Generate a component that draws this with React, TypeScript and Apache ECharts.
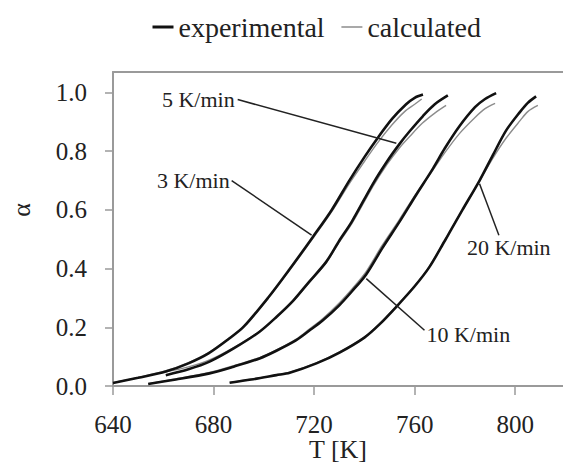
import React, { useEffect, useRef } from "react";
import * as echarts from "echarts";

// ---- data ----
const rateLabels = ["3 K/min", "5 K/min", "10 K/min", "20 K/min"];

const T3e = [640, 650, 661, 670, 678, 686, 692, 702, 710, 719.5, 727, 734, 740, 745, 751, 756.6, 760, 763.3];
const A3e = [0.010, 0.028, 0.049, 0.077, 0.111, 0.160, 0.202, 0.304, 0.395, 0.508, 0.600, 0.700, 0.780, 0.842, 0.910, 0.960, 0.982, 0.993];
const T3c = [640, 650, 661, 670, 678, 686, 692, 702, 710, 719.5, 727, 734, 740, 745, 751, 756, 760, 762.8];
const A3c = [0.011, 0.029, 0.052, 0.080, 0.114, 0.162, 0.203, 0.302, 0.392, 0.503, 0.594, 0.690, 0.765, 0.826, 0.890, 0.935, 0.960, 0.978];

const T5e = [661, 670, 678.4, 688, 698.3, 705, 711.6, 718, 724.8, 730, 735, 743.4, 749, 754, 758, 763.3, 768, 773.2];
const A5e = [0.037, 0.057, 0.083, 0.128, 0.185, 0.235, 0.290, 0.355, 0.423, 0.495, 0.560, 0.689, 0.765, 0.825, 0.868, 0.920, 0.960, 0.990];
const T5c = [661, 670, 678.4, 688, 698.3, 705, 711.6, 718, 724.8, 730, 735, 743.4, 749, 754, 758, 763, 768, 772.5];
const A5c = [0.048, 0.065, 0.089, 0.131, 0.186, 0.234, 0.288, 0.352, 0.420, 0.490, 0.553, 0.680, 0.755, 0.812, 0.850, 0.895, 0.930, 0.956];

const T10e = [654, 665, 678.4, 688, 698.3, 705, 712.9, 718, 723.5, 730, 735, 740.7, 747, 754, 760.5, 767.2, 772, 777.8, 784, 788, 792.4];
const A10e = [0.007, 0.022, 0.043, 0.066, 0.094, 0.120, 0.156, 0.188, 0.224, 0.275, 0.322, 0.380, 0.468, 0.560, 0.650, 0.740, 0.810, 0.885, 0.950, 0.978, 0.998];
const T10c = [654, 665, 678.4, 688, 698.3, 705, 712.9, 718, 723.5, 730, 735, 740.7, 747, 754, 760.5, 767.2, 772, 777.8, 784, 788, 792];
const A10c = [0.008, 0.024, 0.046, 0.069, 0.097, 0.123, 0.160, 0.193, 0.230, 0.283, 0.330, 0.390, 0.478, 0.568, 0.655, 0.735, 0.795, 0.860, 0.915, 0.945, 0.963];

const T20e = [686.4, 695, 705, 710.3, 720.9, 730.1, 740, 746, 752.7, 760, 765.9, 772, 774, 779, 785.8, 791, 796.4, 802, 805, 808.3];
const A20e = [0.011, 0.022, 0.037, 0.045, 0.077, 0.114, 0.165, 0.210, 0.270, 0.340, 0.406, 0.495, 0.525, 0.600, 0.700, 0.785, 0.871, 0.935, 0.965, 0.987];
const T20c = [686.4, 695, 705, 710.3, 720.9, 730.1, 740, 746, 752.7, 760, 765.9, 772, 774, 779, 785.8, 791, 796.4, 802, 805, 809];
const A20c = [0.012, 0.023, 0.038, 0.047, 0.079, 0.116, 0.167, 0.212, 0.272, 0.342, 0.408, 0.497, 0.527, 0.600, 0.698, 0.775, 0.845, 0.905, 0.935, 0.956];

const xTicks = [640, 680, 720, 760, 800];
const yTicks = [0, 0.2, 0.4, 0.6, 0.8, 1.0];
const xMin = 640;
const xMax = 819;

// leader lines: point on curve and point where the label attaches (data coords)
const leaderCurvePts = [[719.0, 0.514], [752.7, 0.827], [740.75, 0.366], [785.8, 0.689]];
const leaderLabelPts = [[687.2, 0.700], [689.6, 0.976], [763.9, 0.190], [793.5, 0.514]];

const FONT = "Liberation Serif";

const pair = (t: number[], a: number[]) => t.map((v, i) => [v, a[i]]);

export default function App() {
  const ref = useRef<HTMLDivElement>(null);

  useEffect(() => {
    if (!ref.current) return;
    const chart = echarts.init(ref.current, null, { renderer: "svg" });

    const expSets = [pair(T3e, A3e), pair(T5e, A5e), pair(T10e, A10e), pair(T20e, A20e)];
    const calcSets = [pair(T3c, A3c), pair(T5c, A5c), pair(T10c, A10c), pair(T20c, A20c)];

    const calcSeries = calcSets.map((d) => ({
      name: "calculated",
      type: "line",
      data: d,
      symbol: "none",
      smooth: 0.3,
      lineStyle: { color: "#8c8c8c", width: 1.4 },
      itemStyle: { color: "#8c8c8c" },
      z: 2,
    }));
    const expSeries = expSets.map((d) => ({
      name: "experimental",
      type: "line",
      data: d,
      symbol: "none",
      smooth: 0.3,
      lineStyle: { color: "#111", width: 2.6 },
      itemStyle: { color: "#111" },
      z: 3,
    }));

    const axisColor = "#9a9a9a";
    chart.setOption({
      animation: false,
      backgroundColor: "#fff",
      textStyle: { fontFamily: FONT },
      legend: {
        data: [
          { name: "experimental", lineStyle: { width: 3, color: "#111" }, itemStyle: { opacity: 0 } },
          { name: "calculated", lineStyle: { width: 1.5, color: "#8c8c8c" }, itemStyle: { opacity: 0 } },
        ],
        left: 146,
        top: 8,
        itemWidth: 21,
        itemHeight: 14,
        itemGap: 16,
        textStyle: { fontFamily: FONT, fontSize: 28, color: "#222" },
      },
      grid: { left: 113, right: 0, top: 72, bottom: 77, containLabel: false, outerBoundsMode: "none" },
      xAxis: [
        {
          type: "value",
          min: xMin,
          max: xMax,
          interval: 40,
          axisLine: { show: true, lineStyle: { color: axisColor, width: 2 } },
          axisTick: { show: true, inside: false, length: 9, customValues: xTicks, lineStyle: { color: axisColor, width: 1.5 } },
          axisLabel: { customValues: xTicks, margin: 26, fontFamily: FONT, fontSize: 25, color: "#222" },
          splitLine: { show: false },
        },
        {
          type: "value",
          position: "top",
          min: xMin,
          max: xMax,
          axisLine: { show: true, lineStyle: { color: axisColor, width: 2 } },
          axisTick: { show: false },
          axisLabel: { show: false },
          splitLine: { show: false },
        },
      ],
      yAxis: {
        type: "value",
        min: 0,
        max: 1.07,
        interval: 0.2,
        axisLine: { show: true, lineStyle: { color: axisColor, width: 2 } },
        axisTick: { show: true, inside: false, length: 8, customValues: yTicks, lineStyle: { color: axisColor, width: 1.5 } },
        axisLabel: {
          customValues: yTicks,
          margin: 26,
          fontFamily: FONT,
          fontSize: 25,
          color: "#222",
          formatter: (v: number) => v.toFixed(1),
        },
        splitLine: { show: false },
      },
      series: [...calcSeries, ...expSeries],
    });

    const toPx = (p: number[]) => chart.convertToPixel({ gridIndex: 0 }, p) as number[];
    const labelOffsets = [
      { dx: -2, dy: 0, align: "right" },
      { dx: -3, dy: 0, align: "right" },
      { dx: 2, dy: 4, align: "left" },
      { dx: -32, dy: 12, align: "left" },
    ];
    const graphics: any[] = [];
    rateLabels.forEach((txt, i) => {
      const c = toPx(leaderCurvePts[i]);
      const l = toPx(leaderLabelPts[i]);
      graphics.push({
        type: "line",
        shape: { x1: l[0], y1: l[1], x2: c[0], y2: c[1] },
        style: { stroke: "#222", lineWidth: 1.5 },
        z: 10,
      });
      const o = labelOffsets[i];
      graphics.push({
        type: "text",
        x: l[0] + o.dx,
        y: l[1] + o.dy,
        style: {
          text: txt,
          fill: "#222",
          fontFamily: FONT,
          fontSize: 22,
          align: o.align,
          verticalAlign: "middle",
          textAlign: o.align,
          textVerticalAlign: "middle",
        },
        z: 10,
      });
    });
    // axis titles
    const axisOrigin = toPx([(xMin + xMax) / 2, 0]);
    graphics.push({
      type: "text",
      x: axisOrigin[0],
      y: axisOrigin[1] + 63,
      style: {
        text: "T [K]",
        fill: "#222",
        fontFamily: FONT,
        fontSize: 26,
        align: "center",
        verticalAlign: "middle",
        textAlign: "center",
        textVerticalAlign: "middle",
      },
    });
    graphics.push({
      type: "text",
      x: 21,
      y: 210,
      rotation: Math.PI / 2,
      style: {
        text: "α",
        fill: "#222",
        fontFamily: FONT,
        fontSize: 26,
        align: "center",
        verticalAlign: "middle",
        textAlign: "center",
        textVerticalAlign: "middle",
      },
    });
    chart.setOption({ graphic: graphics });

    return () => chart.dispose();
  }, []);

  return (
    <div
      ref={ref}
      style={{ position: "fixed", left: 0, top: 0, width: 563, height: 463, background: "#fff" }}
    />
  );
}
